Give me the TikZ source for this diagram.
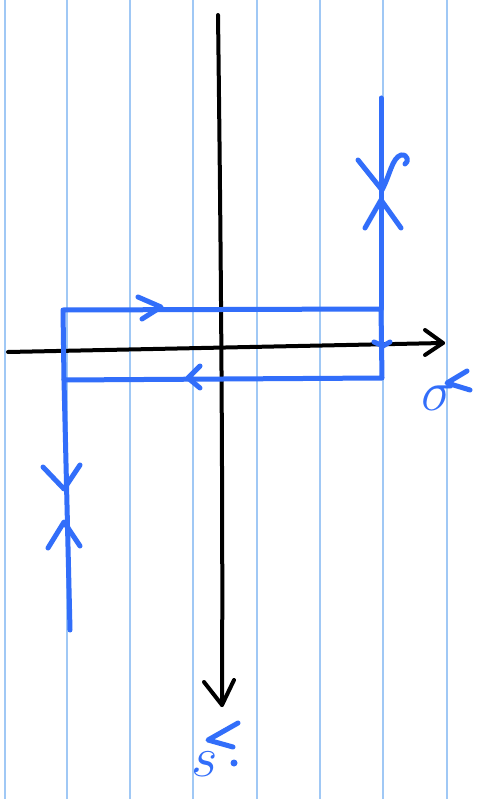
\documentclass[tikz,border=0pt]{standalone}
\usepackage{amsmath}
\usepackage{graphicx}
\definecolor{ruled}{RGB}{160,200,245}
\definecolor{pen}{RGB}{50,110,250}
\begin{document}
\begin{tikzpicture}[x=1pt,y=-1pt,
  rule/.style={ruled,line width=1.5pt},
  axis/.style={black,line width=4pt,line cap=round,line join=round},
  bluepen/.style={pen,line width=5pt,line cap=round,line join=round},
  lbl/.style={pen,font=\Huge,inner sep=0pt}]
\useasboundingbox (0,0) rectangle (484,799);
\fill[white] (0,0) rectangle (484,799);
% ruled lines
\foreach \x in {5,67,130,193,257,320,383,447}
  \draw[rule] (\x,0) -- (\x,799);
% axes
\coordinate (vtop) at (218,15);
\coordinate (vbot) at (222,705);
\coordinate (hl) at (8,352);
\coordinate (hr) at (443,343);
\draw[axis] (vtop) .. controls (221,250) and (223,500) .. (vbot);
\draw[axis] (204,682) -- (vbot) -- (234,680);
\draw[axis] (hl) -- (hr);
\draw[axis] (425,330) -- (hr) -- (425,355);
% rectangle
\coordinate (tl) at (63,310);
\coordinate (tr) at (381,309);
\coordinate (br) at (382,378);
\coordinate (bl) at (64,380);
\draw[bluepen] (tl) -- (tr) -- (br) -- (bl) -- cycle;
\draw[bluepen] (138,297) -- (161,307) -- (142,319);
\draw[bluepen] (200,366) -- (188,378) -- (200,388);
\draw[bluepen] (374,342) -- (383,346) -- (390,342);
% right lead
\coordinate (rtop) at (381,98);
\draw[bluepen] (rtop) -- (tr);
\draw[bluepen] (358,160) -- (382,190) .. controls (390,175) and (392,158) .. (401,155) .. controls (408,154) and (409,162) .. (405,164);
\draw[bluepen] (365,228) -- (381,200) -- (401,228);
% left lead
\coordinate (lbot) at (70,630);
\draw[bluepen] (bl) -- (lbot);
\draw[bluepen] (43,467) -- (64,489) -- (80,465);
\draw[bluepen] (48,548) -- (64,522) -- (80,546);
% labels
\node[lbl] (sigma) at (438,398) {\scalebox{2.3}{$\sigma$}};
\draw[bluepen] (467,371) -- (447,383) -- (470,390);
\node[lbl] (shat) at (205,764) {\scalebox{2.3}{$s$}};
\draw[bluepen] (238,723) -- (208,740) -- (233,747);
\fill[pen] (234,763) circle (3.5pt);
\end{tikzpicture}
\end{document}
